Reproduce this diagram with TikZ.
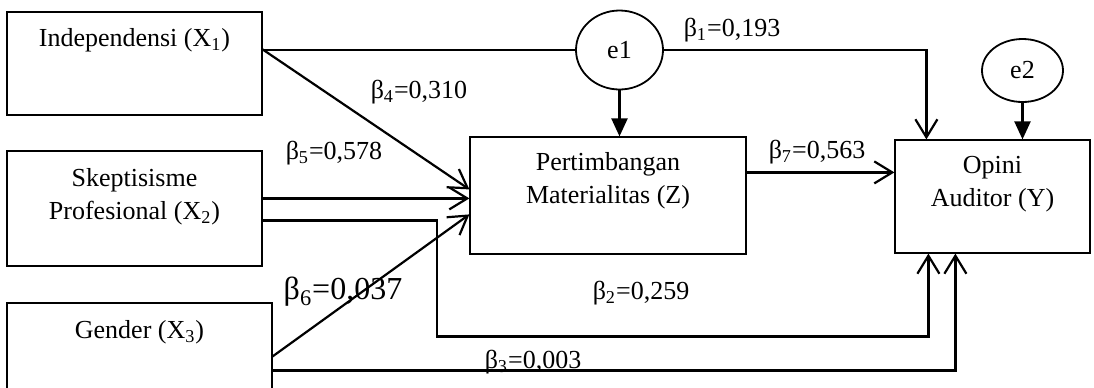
\documentclass[tikz,border=0pt]{standalone}
\usepackage{fontspec}
\setmainfont{Liberation Serif}
\usetikzlibrary{arrows.meta,positioning,calc,shapes.geometric}

\begin{document}
\begin{tikzpicture}[x=0.5pt,y=-0.5pt,every node/.style={font=\fontsize{13}{16.5}\selectfont,align=center},
  var/.style={draw,line width=0.6pt,inner sep=0pt},
  err/.style={draw,ellipse,line width=0.9pt,inner sep=1pt},
  path/.style={line width=1.1pt,-{Straight Barb[length=9pt,width=11pt]}},
  link/.style={line width=1.1pt},
  fix/.style={line width=1.1pt,-{Triangle[length=9pt,width=8pt]}}]
\useasboundingbox (0,0) rectangle (1094,387);
% variables
\node[var,minimum width=127.5pt,minimum height=51.5pt,label={[yshift=11.75pt]center:Independensi (X\textsubscript{1})}] (x1) at (134.5,63.5) {};
\node[var,minimum width=127.5pt,minimum height=57.5pt,label={[yshift=6pt]center:{Skeptisisme\\Profesional (X\textsubscript{2})}}] (x2) at (134.5,208.5) {};
\node[var,minimum width=132.5pt,minimum height=58.5pt,label={[yshift=14.75pt]center:Gender (X\textsubscript{3})}] (x3) at (139.5,361.5) {};
\node[var,minimum width=138pt,minimum height=58.5pt,label={[yshift=7.25pt]center:{Pertimbangan\\Materialitas (Z)}}] (z) at (608,195.5) {};
\node[var,minimum width=97.5pt,minimum height=56.5pt,label={[yshift=6pt]center:{Opini\\Auditor (Y)}}] (y) at (992.5,196.5) {};
\node[err,minimum width=43.5pt,minimum height=39.5pt] (e1) at (619.5,50) {e1};
\node[err,minimum width=40.5pt,minimum height=31.5pt] (e2) at (1022.5,70.5) {e2};
% paths
\draw[link] (x1.east |- e1.west) -- (e1.west);
\draw[path] (e1.east) -| ($(y.north west)+(32,0)$);
\draw[fix] (e1.south) -- (e1.south |- z.north);
\draw[fix] (e2.south) -- (e2.south |- y.north);
\draw[path] ($(x1.north east)+(0,38)$) -- ($(z.north west)+(0,53)$);
\draw[path] ($(x2.north east)+(0,48)$) coordinate (s5) -- (s5 -| z.west);
\draw[path] ($(x2.north east)+(0,70)$) -- ++(174,0) -- ++(0,116) -| ($(y.south west)+(34,0)$);
\draw[path] ($(x3.north east)+(0,54)$) -- ($(z.north west)+(0,78)$);
\draw[path] ($(x3.north east)+(0,68)$) -| ($(y.south west)+(61,0)$);
\draw[path] ($(z.north east)+(0,36)$) coordinate (s7) -- (s7 -| y.west);
% coefficients
\node (b1) at (732,30) {β\textsubscript{1}=0,193};
\node (b2) at (641,293) {β\textsubscript{2}=0,259};
\node (b3) at (533,362) {β\textsubscript{3}=0,003};
\node (b4) at (419,92) {β\textsubscript{4}=0,310};
\node (b5) at (334,153) {β\textsubscript{5}=0,578};
\node[font=\fontsize{16}{19}\selectfont] (b6) at (343,292) {β\textsubscript{6}=0,037};
\node (b7) at (817,152) {β\textsubscript{7}=0,563};
\end{tikzpicture}
\end{document}
